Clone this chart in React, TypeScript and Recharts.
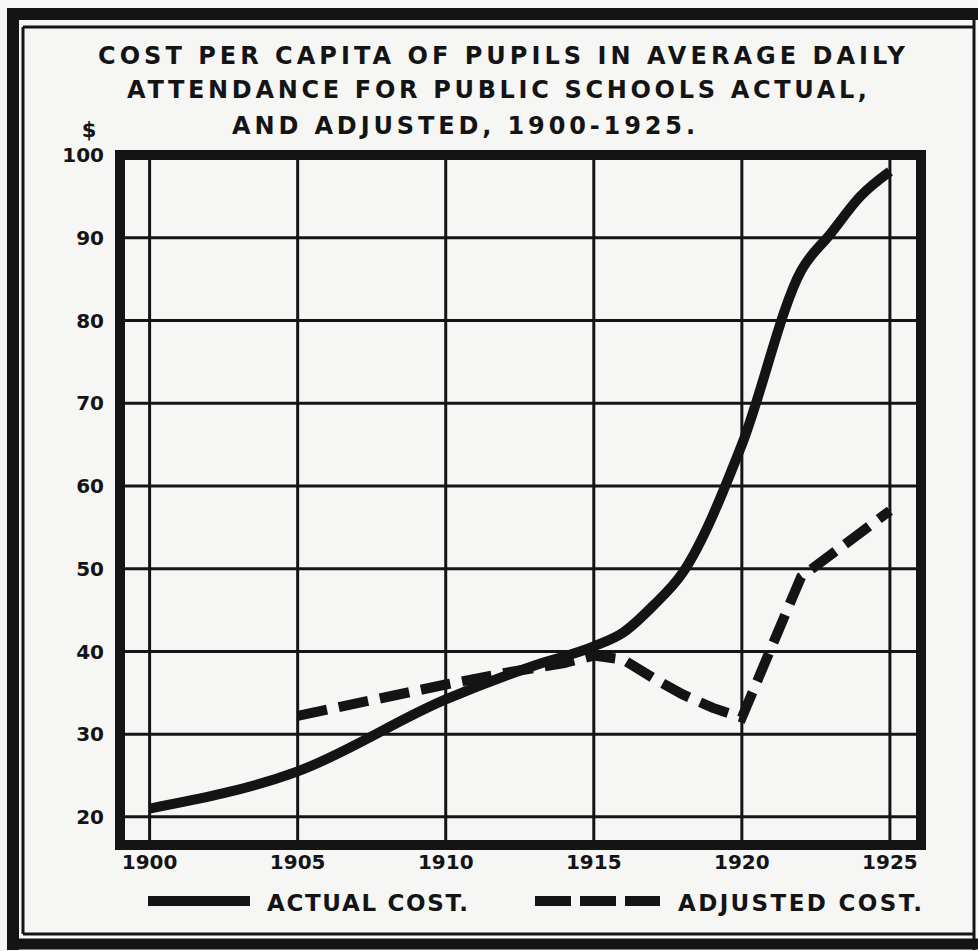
import { LineChart, Line, XAxis, YAxis, CartesianGrid, ReferenceArea, Legend } from 'recharts';

// values
const actualYears = [1900, 1905, 1910, 1913, 1915, 1916, 1917, 1918, 1920, 1922, 1923, 1924, 1925];
const actualCost = [21, 25.5, 34.2, 38.3, 40.6, 42.3, 45.5, 49.5, 65, 86, 90.5, 95, 98];
const adjustedYears = [1905, 1910, 1912, 1914, 1915, 1916, 1917, 1918, 1919, 1920, 1922, 1925];
const adjustedCost = [32.2, 36, 37.4, 38.6, 39.5, 39, 36.8, 34.8, 33.2, 32, 49, 57];
const yearTicks = [1900, 1905, 1910, 1915, 1920, 1925];
const dollarTicks = [20, 30, 40, 50, 60, 70, 80, 90, 100];
const titleLines = [
  'COST PER CAPITA OF PUPILS IN AVERAGE DAILY',
  'ATTENDANCE FOR PUBLIC SCHOOLS ACTUAL,',
  'AND ADJUSTED, 1900-1925.',
];
const legendLabels = ['ACTUAL COST.', 'ADJUSTED COST.'];
const unitLabel = '$';

const INK = '#141414';
const PAPER = '#f6f6f4';
const FONT = '"DejaVu Sans", sans-serif';

const actualData = actualYears.map((year, i) => ({ year, cost: actualCost[i] }));
const adjustedData = adjustedYears.map((year, i) => ({ year, cost: adjustedCost[i] }));

const X_DOMAIN: [number, number] = [1899, 1926.05];
const Y_DOMAIN: [number, number] = [16.6, 100];

// title rows: [left, baseline, width]
const titleRows = [
  [98, 64, 807],
  [127, 98, 740],
  [232, 134, 463],
];

const renderLegend = () => (
  <svg width={978} height={40}>
    <line x1={148} x2={250} y1={19} y2={19} stroke={INK} strokeWidth={10} />
    <text x={267} y={29} textLength={201} lengthAdjust="spacing" fontFamily={FONT} fontWeight="bold" fontSize={23} fill={INK}>
      {legendLabels[0]}
    </text>
    <line x1={535} x2={660} y1={19} y2={19} stroke={INK} strokeWidth={10} strokeDasharray="36 9" />
    <text x={678} y={29} textLength={244} lengthAdjust="spacing" fontFamily={FONT} fontWeight="bold" fontSize={23} fill={INK}>
      {legendLabels[1]}
    </text>
  </svg>
);

export default function App() {
  return (
    <div style={{ position: 'absolute', left: 0, top: 0, width: 978, height: 951, background: PAPER, overflow: 'hidden' }}>
      <svg width={978} height={951} style={{ position: 'absolute', left: 0, top: 0 }}>
        {/* outer double frame, heavy on three sides */}
        <line x1={13} x2={13} y1={8} y2={950} stroke={INK} strokeWidth={12} />
        <line x1={7} x2={978} y1={14} y2={14} stroke={INK} strokeWidth={12} />
        <line x1={7} x2={978} y1={944} y2={944} stroke={INK} strokeWidth={11} />
        <line x1={974} x2={974} y1={8} y2={950} stroke={INK} strokeWidth={3} />
        <line x1={23} x2={23} y1={27} y2={934} stroke={INK} strokeWidth={3} />
        <line x1={23} x2={974} y1={27} y2={27} stroke={INK} strokeWidth={3} />
        <line x1={23} x2={974} y1={934} y2={934} stroke={INK} strokeWidth={3} />
        {titleLines.map((t, i) => (
          <text
            key={t}
            x={titleRows[i][0]}
            y={titleRows[i][1]}
            textLength={titleRows[i][2]}
            lengthAdjust="spacing"
            fontFamily={FONT}
            fontWeight="bold"
            fontSize={24}
            fill={INK}
          >
            {t}
          </text>
        ))}
        <text x={89} y={137} textAnchor="middle" fontFamily={FONT} fontWeight="bold" fontSize={21} fill={INK}>
          {unitLabel}
        </text>
      </svg>
      <div style={{ position: 'absolute', left: 0, top: 0 }}>
        <LineChart width={978} height={951} margin={{ top: 155, right: 57, bottom: 26, left: 60 }}>
          <CartesianGrid stroke={INK} strokeWidth={3} />
          <XAxis
            type="number"
            dataKey="year"
            domain={X_DOMAIN}
            ticks={yearTicks}
            interval={0}
            allowDataOverflow
            axisLine={false}
            tickLine={false}
            tickSize={0}
            tickMargin={10}
            height={40}
            tick={{ fill: INK, fontSize: 20, fontWeight: 'bold', fontFamily: FONT }}
          />
          <YAxis
            type="number"
            domain={Y_DOMAIN}
            ticks={dollarTicks}
            interval={0}
            allowDataOverflow
            axisLine={false}
            tickLine={false}
            tickSize={0}
            tickMargin={16}
            width={60}
            tick={{ fill: INK, fontSize: 20, fontWeight: 'bold', fontFamily: FONT }}
          />
          <ReferenceArea
            x1={X_DOMAIN[0]}
            x2={X_DOMAIN[1]}
            y1={Y_DOMAIN[0]}
            y2={Y_DOMAIN[1]}
            fill="none"
            stroke={INK}
            strokeWidth={10}
            ifOverflow="visible"
          />
          <Line
            data={actualData}
            dataKey="cost"
            name={legendLabels[0]}
            type="monotone"
            stroke={INK}
            strokeWidth={10}
            dot={false}
            activeDot={false}
            isAnimationActive={false}
          />
          <Line
            data={adjustedData}
            dataKey="cost"
            name={legendLabels[1]}
            type="linear"
            stroke={INK}
            strokeWidth={10}
            strokeDasharray="30 12"
            dot={false}
            activeDot={false}
            isAnimationActive={false}
          />
          <Legend
            verticalAlign="bottom"
            height={40}
            content={renderLegend}
            wrapperStyle={{ top: 882, left: 0, bottom: 'auto', width: 978 }}
          />
        </LineChart>
      </div>
    </div>
  );
}
